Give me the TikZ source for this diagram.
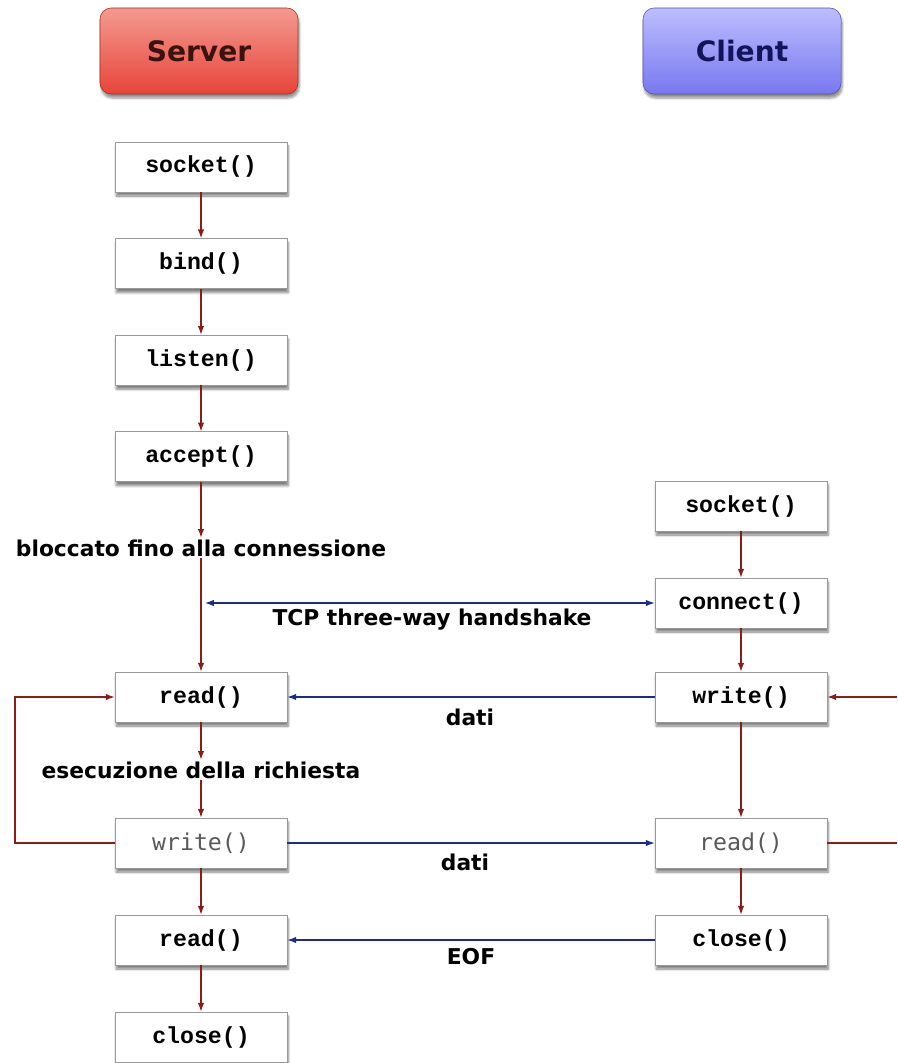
\documentclass[tikz,border=0pt]{standalone}
\usepackage{fontspec}
\usetikzlibrary{arrows.meta, positioning, shadows, shadows.blur}
\newfontfamily\labelfont{DejaVu Sans}
\newfontfamily\codefont{Liberation Mono}
\newfontfamily\plaincodefont{DejaVu Sans Mono}
\definecolor{serverred}{HTML}{E8443A}
\definecolor{serverlightred}{HTML}{F39A90}
\definecolor{serverdark}{HTML}{3A1210}
\definecolor{clientblue}{HTML}{7878F0}
\definecolor{clientlightblue}{HTML}{BDBDFF}
\definecolor{clientdark}{HTML}{14145A}
\definecolor{flowred}{HTML}{8B1C1C}
\definecolor{flowblue}{HTML}{1E2A8C}

\begin{document}
\begin{tikzpicture}[x=0.025cm, y=-0.025cm,
                    node distance=1.15cm,
                    >={Latex[length=2.2mm, width=1.6mm]},
                    header/.style={rectangle, rounded corners=8pt, minimum width=4.95cm, minimum height=2.15cm, font=\labelfont\bfseries\fontsize{20}{24}\selectfont, blur shadow={shadow xshift=0.03cm, shadow yshift=-0.1cm, shadow blur steps=6, shadow opacity=45}},
                    callbox/.style={rectangle, draw=gray!80, fill=white, minimum width=4.3cm, minimum height=1.25cm, font=\codefont\bfseries\fontsize{16.5}{18}\selectfont, blur shadow={shadow xshift=0.03cm, shadow yshift=-0.1cm, shadow blur steps=6, shadow opacity=50}},
                    plaincall/.style={callbox, font=\plaincodefont\fontsize{16.5}{18}\selectfont, text=black!65},
                    note/.style={font=\labelfont\bfseries\fontsize{15.5}{18}\selectfont, fill=white, inner sep=1pt},
                    flow/.style={draw=flowred, line width=0.9pt},
                    msg/.style={draw=flowblue, line width=0.9pt}]

    \useasboundingbox (0,0) rectangle (897,1063);

    % Headers
    \node[header, draw=serverred!70!black, top color=serverlightred, middle color=serverred, bottom color=serverred, text=serverdark] (server) at (199,51) {Server};
    \node[header, draw=clientblue!70!black, top color=clientlightblue, middle color=clientblue, bottom color=clientblue, text=clientdark] (client) at (742,51) {Client};

    % Server column
    \node[callbox] (s_socket) at (201,167) {socket()};
    \node[callbox, below=of s_socket] (s_bind) {bind()};
    \node[callbox, below=of s_bind] (s_listen) {listen()};
    \node[callbox, below=of s_listen] (s_accept) {accept()};
    \node[callbox] (s_read) at (201,697) {read()};
    \node[plaincall] (s_write) at (201,843) {write()};
    \node[callbox] (s_read2) at (201,940) {read()};
    \node[callbox] (s_close) at (201,1037) {close()};

    % Client column
    \node[callbox] (c_socket) at (741,506) {socket()};
    \node[callbox] (c_connect) at (741,603) {connect()};
    \node[callbox] (c_write) at (741,697) {write()};
    \node[plaincall] (c_read) at (741,843) {read()};
    \node[callbox] (c_close) at (741,940) {close()};

    % Labels
    \node[note] (blocked) at (201,548) {bloccato fino alla connessione};
    \node[note] (request) at (201,770) {esecuzione della richiesta};
    \node[note] (handshake) at (432,620) {TCP three-way handshake};
    \node[note] (data1) at (470,717) {dati};
    \node[note] (data2) at (465,862) {dati};
    \node[note] (eof) at (471,957) {EOF};

    % Free ends
    \coordinate (hs) at (205,603);
    \coordinate (loopL) at (15,697);
    \coordinate (loopRa) at (897,843);
    \coordinate (loopRb) at (897,697);

    % Server flow
    \draw[flow, ->] (s_socket) -- (s_bind);
    \draw[flow, ->] (s_bind) -- (s_listen);
    \draw[flow, ->] (s_listen) -- (s_accept);
    \draw[flow, ->] (s_accept) -- (blocked);
    \draw[flow, ->] (blocked) -- (s_read);
    \draw[flow, ->] (s_read) -- (request);
    \draw[flow, ->] (request) -- (s_write);
    \draw[flow, ->] (s_write) -- (s_read2);
    \draw[flow, ->] (s_read2) -- (s_close);
    \draw[flow, ->] (s_write.west) -| (loopL) -- (s_read.west);

    % Client flow
    \draw[flow, ->] (c_socket) -- (c_connect);
    \draw[flow, ->] (c_connect) -- (c_write);
    \draw[flow, ->] (c_write) -- (c_read);
    \draw[flow, ->] (c_read) -- (c_close);
    \draw[flow] (c_read) -- (loopRa);
    \draw[flow, ->] (loopRb) -- (c_write);

    % Messages
    \draw[msg, <->] (hs) -- (c_connect);
    \draw[msg, ->] (c_write) -- (s_read);
    \draw[msg, ->] (s_write) -- (c_read);
    \draw[msg, ->] (c_close) -- (s_read2);

\end{tikzpicture}
\end{document}
